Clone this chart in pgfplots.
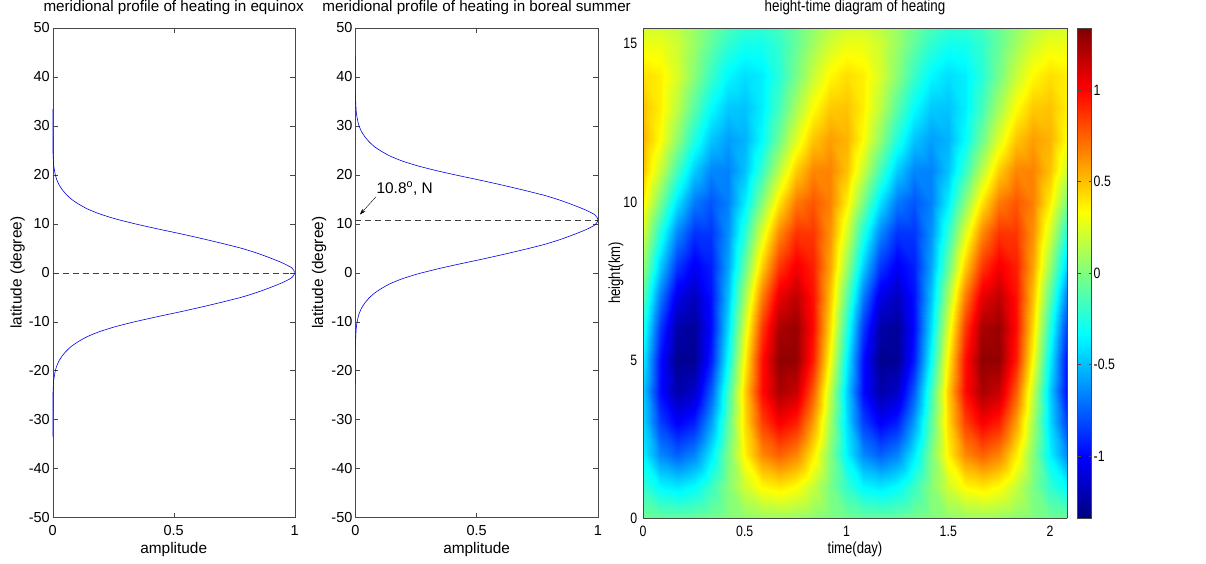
\documentclass[border=0pt]{standalone}
\usepackage{fontspec}
\setmainfont{Liberation Sans}
\newfontfamily\narrowfont{Liberation Sans}[FakeStretch=0.82]
\usepackage{pgfplots}
\pgfplotsset{compat=1.18}
\usetikzlibrary{arrows.meta}

\pgfplotsset{
  matlab/.style={
    scale only axis,
    axis line style={black!72},
    tick style={black!72, line width=0.4pt},
    tick align=inside,
    major tick length=5pt,
    xtick pos=both, ytick pos=both,
    /pgf/number format/assume math mode=true,
    ticklabel style={font=\fontsize{14.5}{17}\selectfont, inner sep=0pt},
    xticklabel style={anchor=base, yshift=-18pt},
    yticklabel style={anchor=east, xshift=-2.7pt},
    label style={font=\fontsize{15.4}{18}\selectfont, inner sep=0pt},
    title style={font=\fontsize{15.2}{18}\selectfont, at={(0.5,1)}, anchor=base, yshift=11pt, inner sep=0pt},
    xlabel style={at={(axis description cs:0.5,0)}, anchor=base, yshift=-35.5pt},
  }
}

\begin{document}
\begin{tikzpicture}
\path[use as bounding box] (0pt,0pt) rectangle (1206pt,-563pt);

% ---------- panel 1 ----------
\begin{axis}[matlab,
  at={(52.7pt,-517.5pt)}, anchor=south west,
  width=242pt, height=489.5pt,
  xmin=0, xmax=1, ymin=-50, ymax=50,
  xtick={0,0.5,1}, ytick={-50,-40,...,50},
  xlabel={amplitude}, ylabel={latitude (degree)},
  ylabel style={at={(axis description cs:-0.145,0.5)}, anchor=center},
  title={meridional profile of heating in equinox}]
\addplot[black!75, dash pattern=on 6pt off 4pt, line width=0.5pt] coordinates {(0,0) (1,0)};
\addplot[blue!90!black, line width=0.6pt, smooth, tension=0.4] coordinates {
(0,-33.5) (0,-28) (0.001,-25) (0.004,-22) (0.011,-20) (0.017,-19) (0.026,-18) (0.039,-17) (0.056,-16) (0.078,-15) (0.108,-14) (0.145,-13) (0.195,-12) (0.26,-11) (0.34,-10) (0.43,-9) (0.525,-8) (0.615,-7) (0.70,-6) (0.78,-5) (0.845,-4) (0.9,-3) (0.95,-2) (0.988,-1) (1,0) (0.988,1) (0.95,2) (0.9,3) (0.845,4) (0.78,5) (0.70,6) (0.615,7) (0.525,8) (0.43,9) (0.34,10) (0.26,11) (0.195,12) (0.145,13) (0.108,14) (0.078,15) (0.056,16) (0.039,17) (0.026,18) (0.017,19) (0.011,20) (0.004,22) (0.001,25) (0,28) (0,33.5)};
\end{axis}

% ---------- panel 2 ----------
\begin{axis}[matlab,
  at={(355.3pt,-517.5pt)}, anchor=south west,
  width=242.7pt, height=489.5pt,
  xmin=0, xmax=1, ymin=-50, ymax=50,
  xtick={0,0.5,1}, ytick={-50,-40,...,50},
  xlabel={amplitude}, ylabel={latitude (degree)},
  ylabel style={at={(axis description cs:-0.149,0.5)}, anchor=center},
  title={meridional profile of heating in boreal summer}]
\addplot[black!75, dash pattern=on 6pt off 4pt, line width=0.5pt] coordinates {(0,10.8) (1,10.8)};
\addplot[blue!90!black, line width=0.6pt, smooth, tension=0.4] coordinates {
(0,-22.7) (0,-17.2) (0.001,-14.2) (0.004,-11.2) (0.011,-9.2) (0.017,-8.2) (0.026,-7.2) (0.039,-6.2) (0.056,-5.2) (0.078,-4.2) (0.108,-3.2) (0.145,-2.2) (0.195,-1.2) (0.26,-0.2) (0.34,0.8) (0.43,1.8) (0.525,2.8) (0.615,3.8) (0.70,4.8) (0.78,5.8) (0.845,6.8) (0.9,7.8) (0.95,8.8) (0.988,9.8) (1,10.8) (0.988,11.8) (0.95,12.8) (0.9,13.8) (0.845,14.8) (0.78,15.8) (0.70,16.8) (0.615,17.8) (0.525,18.8) (0.43,19.8) (0.34,20.8) (0.26,21.8) (0.195,22.8) (0.145,23.8) (0.108,24.8) (0.078,25.8) (0.056,26.8) (0.039,27.8) (0.026,28.8) (0.017,29.8) (0.011,30.8) (0.004,32.8) (0.001,35.8) (0,38.8) (0,44.3)};
\draw[black, line width=0.4pt, -{Stealth[length=6pt,width=4pt]}] (axis cs:0.085,15.5) -- (axis cs:0.019,11.9);
\node[anchor=west, inner sep=0pt, font=\fontsize{15.4}{18}\selectfont] at (axis cs:0.087,17.2) {10.8\textsuperscript{o}, N};
\end{axis}

% ---------- panel 3 ----------
\begin{axis}[matlab,
  at={(643pt,-518pt)}, anchor=south west,
  width=424pt, height=490pt,
  view={0}{90},
  xmin=0, xmax=2.0833, ymin=0, ymax=15.5,
  xtick={0,0.5,1,1.5,2}, ytick={0,5,10,15},
  tick style={draw=none},
  ticklabel style={font=\narrowfont\fontsize{15}{17}\selectfont},
  xticklabel style={anchor=base, yshift=-0.5pt},
  yticklabel style={anchor=east, xshift=-3pt},
  label style={font=\narrowfont\fontsize{16}{19}\selectfont},
  title style={font=\narrowfont\fontsize{16.3}{19}\selectfont},
  xlabel={time(day)}, ylabel={height(km)},
  ylabel style={at={(axis description cs:-0.064,0.5)}, anchor=center},
  title={height-time diagram of heating},
  colormap/jet,
  point meta min=-1.34, point meta max=1.34,
  colorbar,
  colorbar style={
    at={(parent axis.north east)}, anchor=north west, xshift=2pt,
    width=14pt,
    ytick={-1,-0.5,0,0.5,1},
    axis line style={black!72},
    tick style={black!72},
    tick align=inside, major tick length=3pt,
    ytick pos=both, yticklabel pos=right,
    /pgf/number format/assume math mode=true,
    yticklabel style={font=\narrowfont\fontsize{15}{17}\selectfont, anchor=west, xshift=2pt, inner sep=0pt},
  },
]
\addplot3[surf, shader=interp, mesh/cols=26] coordinates {
(0,0,-0.047) (0.0833,0,-0.073) (0.1667,0,-0.080) (0.25,0,-0.065) (0.3333,0,-0.033) (0.4167,0,0.008) (0.5,0,0.047) (0.5833,0,0.073) (0.6667,0,0.080) (0.75,0,0.065) (0.8333,0,0.033) (0.9167,0,-0.008) (1,0,-0.047) (1.0833,0,-0.073) (1.1667,0,-0.080) (1.25,0,-0.065) (1.3333,0,-0.033) (1.4167,0,0.008) (1.5,0,0.047) (1.5833,0,0.073) (1.6667,0,0.080) (1.75,0,0.065) (1.8333,0,0.033) (1.9167,0,-0.008) (2,0,-0.047) (2.0833,0,-0.073)

(0,1,-0.212) (0.0833,1,-0.353) (0.1667,1,-0.400) (0.25,1,-0.339) (0.3333,1,-0.188) (0.4167,1,0.014) (0.5,1,0.212) (0.5833,1,0.353) (0.6667,1,0.400) (0.75,1,0.339) (0.8333,1,0.188) (0.9167,1,-0.014) (1,1,-0.212) (1.0833,1,-0.353) (1.1667,1,-0.400) (1.25,1,-0.339) (1.3333,1,-0.188) (1.4167,1,0.014) (1.5,1,0.212) (1.5833,1,0.353) (1.6667,1,0.400) (1.75,1,0.339) (1.8333,1,0.188) (1.9167,1,-0.014) (2,1,-0.212) (2.0833,1,-0.353)

(0,2,-0.364) (0.0833,2,-0.643) (0.1667,2,-0.750) (0.25,2,-0.656) (0.3333,2,-0.386) (0.4167,2,-0.013) (0.5,2,0.364) (0.5833,2,0.643) (0.6667,2,0.750) (0.75,2,0.656) (0.8333,2,0.386) (0.9167,2,0.013) (1,2,-0.364) (1.0833,2,-0.643) (1.1667,2,-0.750) (1.25,2,-0.656) (1.3333,2,-0.386) (1.4167,2,-0.013) (1.5,2,0.364) (1.5833,2,0.643) (1.6667,2,0.750) (1.75,2,0.656) (1.8333,2,0.386) (1.9167,2,0.013) (2,2,-0.364) (2.0833,2,-0.643)

(0,3,-0.431) (0.0833,3,-0.835) (0.1667,3,-1.016) (0.25,3,-0.924) (0.3333,3,-0.585) (0.4167,3,-0.089) (0.5,3,0.431) (0.5833,3,0.835) (0.6667,3,1.016) (0.75,3,0.924) (0.8333,3,0.585) (0.9167,3,0.089) (1,3,-0.431) (1.0833,3,-0.835) (1.1667,3,-1.016) (1.25,3,-0.924) (1.3333,3,-0.585) (1.4167,3,-0.089) (1.5,3,0.431) (1.5833,3,0.835) (1.6667,3,1.016) (1.75,3,0.924) (1.8333,3,0.585) (1.9167,3,0.089) (2,3,-0.431) (2.0833,3,-0.835)

(0,4,-0.465) (0.0833,4,-0.977) (0.1667,4,-1.228) (0.25,4,-1.150) (0.3333,4,-0.764) (0.4167,4,-0.172) (0.5,4,0.465) (0.5833,4,0.977) (0.6667,4,1.228) (0.75,4,1.150) (0.8333,4,0.764) (0.9167,4,0.172) (1,4,-0.465) (1.0833,4,-0.977) (1.1667,4,-1.228) (1.25,4,-1.150) (1.3333,4,-0.764) (1.4167,4,-0.172) (1.5,4,0.465) (1.5833,4,0.977) (1.6667,4,1.228) (1.75,4,1.150) (1.8333,4,0.764) (1.9167,4,0.172) (2,4,-0.465) (2.0833,4,-0.977)

(0,5,-0.369) (0.0833,5,-0.964) (0.1667,5,-1.300) (0.25,5,-1.288) (0.3333,5,-0.931) (0.4167,5,-0.324) (0.5,5,0.369) (0.5833,5,0.964) (0.6667,5,1.300) (0.75,5,1.288) (0.8333,5,0.931) (0.9167,5,0.324) (1,5,-0.369) (1.0833,5,-0.964) (1.1667,5,-1.300) (1.25,5,-1.288) (1.3333,5,-0.931) (1.4167,5,-0.324) (1.5,5,0.369) (1.5833,5,0.964) (1.6667,5,1.300) (1.75,5,1.288) (1.8333,5,0.931) (1.9167,5,0.324) (2,5,-0.369) (2.0833,5,-0.964)

(0,6,-0.248) (0.0833,6,-0.853) (0.1667,6,-1.229) (0.25,6,-1.276) (0.3333,6,-0.981) (0.4167,6,-0.423) (0.5,6,0.248) (0.5833,6,0.853) (0.6667,6,1.229) (0.75,6,1.276) (0.8333,6,0.981) (0.9167,6,0.423) (1,6,-0.248) (1.0833,6,-0.853) (1.1667,6,-1.229) (1.25,6,-1.276) (1.3333,6,-0.981) (1.4167,6,-0.423) (1.5,6,0.248) (1.5833,6,0.853) (1.6667,6,1.229) (1.75,6,1.276) (1.8333,6,0.981) (1.9167,6,0.423) (2,6,-0.248) (2.0833,6,-0.853)

(0,7,-0.103) (0.0833,7,-0.677) (0.1667,7,-1.069) (0.25,7,-1.176) (0.3333,7,-0.966) (0.4167,7,-0.499) (0.5,7,0.103) (0.5833,7,0.677) (0.6667,7,1.069) (0.75,7,1.176) (0.8333,7,0.966) (0.9167,7,0.499) (1,7,-0.103) (1.0833,7,-0.677) (1.1667,7,-1.069) (1.25,7,-1.176) (1.3333,7,-0.966) (1.4167,7,-0.499) (1.5,7,0.103) (1.5833,7,0.677) (1.6667,7,1.069) (1.75,7,1.176) (1.8333,7,0.966) (1.9167,7,0.499) (2,7,-0.103) (2.0833,7,-0.677)

(0,8,0.072) (0.0833,8,-0.452) (0.1667,8,-0.854) (0.25,8,-1.028) (0.3333,8,-0.926) (0.4167,8,-0.576) (0.5,8,-0.072) (0.5833,8,0.452) (0.6667,8,0.854) (0.75,8,1.028) (0.8333,8,0.926) (0.9167,8,0.576) (1,8,0.072) (1.0833,8,-0.452) (1.1667,8,-0.854) (1.25,8,-1.028) (1.3333,8,-0.926) (1.4167,8,-0.576) (1.5,8,-0.072) (1.5833,8,0.452) (1.6667,8,0.854) (1.75,8,1.028) (1.8333,8,0.926) (1.9167,8,0.576) (2,8,0.072) (2.0833,8,-0.452)

(0,9,0.218) (0.0833,9,-0.248) (0.1667,9,-0.648) (0.25,9,-0.873) (0.3333,9,-0.865) (0.4167,9,-0.625) (0.5,9,-0.218) (0.5833,9,0.248) (0.6667,9,0.648) (0.75,9,0.873) (0.8333,9,0.865) (0.9167,9,0.625) (1,9,0.218) (1.0833,9,-0.248) (1.1667,9,-0.648) (1.25,9,-0.873) (1.3333,9,-0.865) (1.4167,9,-0.625) (1.5,9,-0.218) (1.5833,9,0.248) (1.6667,9,0.648) (1.75,9,0.873) (1.8333,9,0.865) (1.9167,9,0.625) (2,9,0.218) (2.0833,9,-0.248)

(0,10,0.378) (0.0833,10,-0.014) (0.1667,10,-0.402) (0.25,10,-0.682) (0.3333,10,-0.780) (0.4167,10,-0.669) (0.5,10,-0.378) (0.5833,10,0.014) (0.6667,10,0.402) (0.75,10,0.682) (0.8333,10,0.780) (0.9167,10,0.669) (1,10,0.378) (1.0833,10,-0.014) (1.1667,10,-0.402) (1.25,10,-0.682) (1.3333,10,-0.780) (1.4167,10,-0.669) (1.5,10,-0.378) (1.5833,10,0.014) (1.6667,10,0.402) (1.75,10,0.682) (1.8333,10,0.780) (1.9167,10,0.669) (2,10,0.378) (2.0833,10,-0.014)

(0,11,0.497) (0.0833,11,0.199) (0.1667,11,-0.153) (0.25,11,-0.464) (0.3333,11,-0.650) (0.4167,11,-0.663) (0.5,11,-0.497) (0.5833,11,-0.199) (0.6667,11,0.153) (0.75,11,0.464) (0.8333,11,0.650) (0.9167,11,0.663) (1,11,0.497) (1.0833,11,0.199) (1.1667,11,-0.153) (1.25,11,-0.464) (1.3333,11,-0.650) (1.4167,11,-0.663) (1.5,11,-0.497) (1.5833,11,-0.199) (1.6667,11,0.153) (1.75,11,0.464) (1.8333,11,0.650) (1.9167,11,0.663) (2,11,0.497) (2.0833,11,0.199)

(0,12,0.535) (0.0833,12,0.339) (0.1667,12,0.051) (0.25,12,-0.249) (0.3333,12,-0.483) (0.4167,12,-0.588) (0.5,12,-0.535) (0.5833,12,-0.339) (0.6667,12,-0.051) (0.75,12,0.249) (0.8333,12,0.483) (0.9167,12,0.588) (1,12,0.535) (1.0833,12,0.339) (1.1667,12,0.051) (1.25,12,-0.249) (1.3333,12,-0.483) (1.4167,12,-0.588) (1.5,12,-0.535) (1.5833,12,-0.339) (1.6667,12,-0.051) (1.75,12,0.249) (1.8333,12,0.483) (1.9167,12,0.588) (2,12,0.535) (2.0833,12,0.339)

(0,13,0.491) (0.0833,13,0.377) (0.1667,13,0.163) (0.25,13,-0.095) (0.3333,13,-0.328) (0.4167,13,-0.473) (0.5,13,-0.491) (0.5833,13,-0.377) (0.6667,13,-0.163) (0.75,13,0.095) (0.8333,13,0.328) (0.9167,13,0.473) (1,13,0.491) (1.0833,13,0.377) (1.1667,13,0.163) (1.25,13,-0.095) (1.3333,13,-0.328) (1.4167,13,-0.473) (1.5,13,-0.491) (1.5833,13,-0.377) (1.6667,13,-0.163) (1.75,13,0.095) (1.8333,13,0.328) (1.9167,13,0.473) (2,13,0.491) (2.0833,13,0.377)

(0,14,0.419) (0.0833,14,0.378) (0.1667,14,0.235) (0.25,14,0.029) (0.3333,14,-0.184) (0.4167,14,-0.348) (0.5,14,-0.419) (0.5833,14,-0.378) (0.6667,14,-0.235) (0.75,14,-0.029) (0.8333,14,0.184) (0.9167,14,0.348) (1,14,0.419) (1.0833,14,0.378) (1.1667,14,0.235) (1.25,14,0.029) (1.3333,14,-0.184) (1.4167,14,-0.348) (1.5,14,-0.419) (1.5833,14,-0.378) (1.6667,14,-0.235) (1.75,14,-0.029) (1.8333,14,0.184) (1.9167,14,0.348) (2,14,0.419) (2.0833,14,0.378)

(0,15,0.288) (0.0833,15,0.285) (0.1667,15,0.206) (0.25,15,0.072) (0.3333,15,-0.082) (0.4167,15,-0.213) (0.5,15,-0.288) (0.5833,15,-0.285) (0.6667,15,-0.206) (0.75,15,-0.072) (0.8333,15,0.082) (0.9167,15,0.213) (1,15,0.288) (1.0833,15,0.285) (1.1667,15,0.206) (1.25,15,0.072) (1.3333,15,-0.082) (1.4167,15,-0.213) (1.5,15,-0.288) (1.5833,15,-0.285) (1.6667,15,-0.206) (1.75,15,-0.072) (1.8333,15,0.082) (1.9167,15,0.213) (2,15,0.288) (2.0833,15,0.285)

(0,15.5,0.213) (0.0833,15.5,0.219) (0.1667,15.5,0.166) (0.25,15.5,0.070) (0.3333,15.5,-0.046) (0.4167,15.5,-0.150) (0.5,15.5,-0.213) (0.5833,15.5,-0.219) (0.6667,15.5,-0.166) (0.75,15.5,-0.070) (0.8333,15.5,0.046) (0.9167,15.5,0.150) (1,15.5,0.213) (1.0833,15.5,0.219) (1.1667,15.5,0.166) (1.25,15.5,0.070) (1.3333,15.5,-0.046) (1.4167,15.5,-0.150) (1.5,15.5,-0.213) (1.5833,15.5,-0.219) (1.6667,15.5,-0.166) (1.75,15.5,-0.070) (1.8333,15.5,0.046) (1.9167,15.5,0.150) (2,15.5,0.213) (2.0833,15.5,0.219)
};
\end{axis}
\end{tikzpicture}
\end{document}
